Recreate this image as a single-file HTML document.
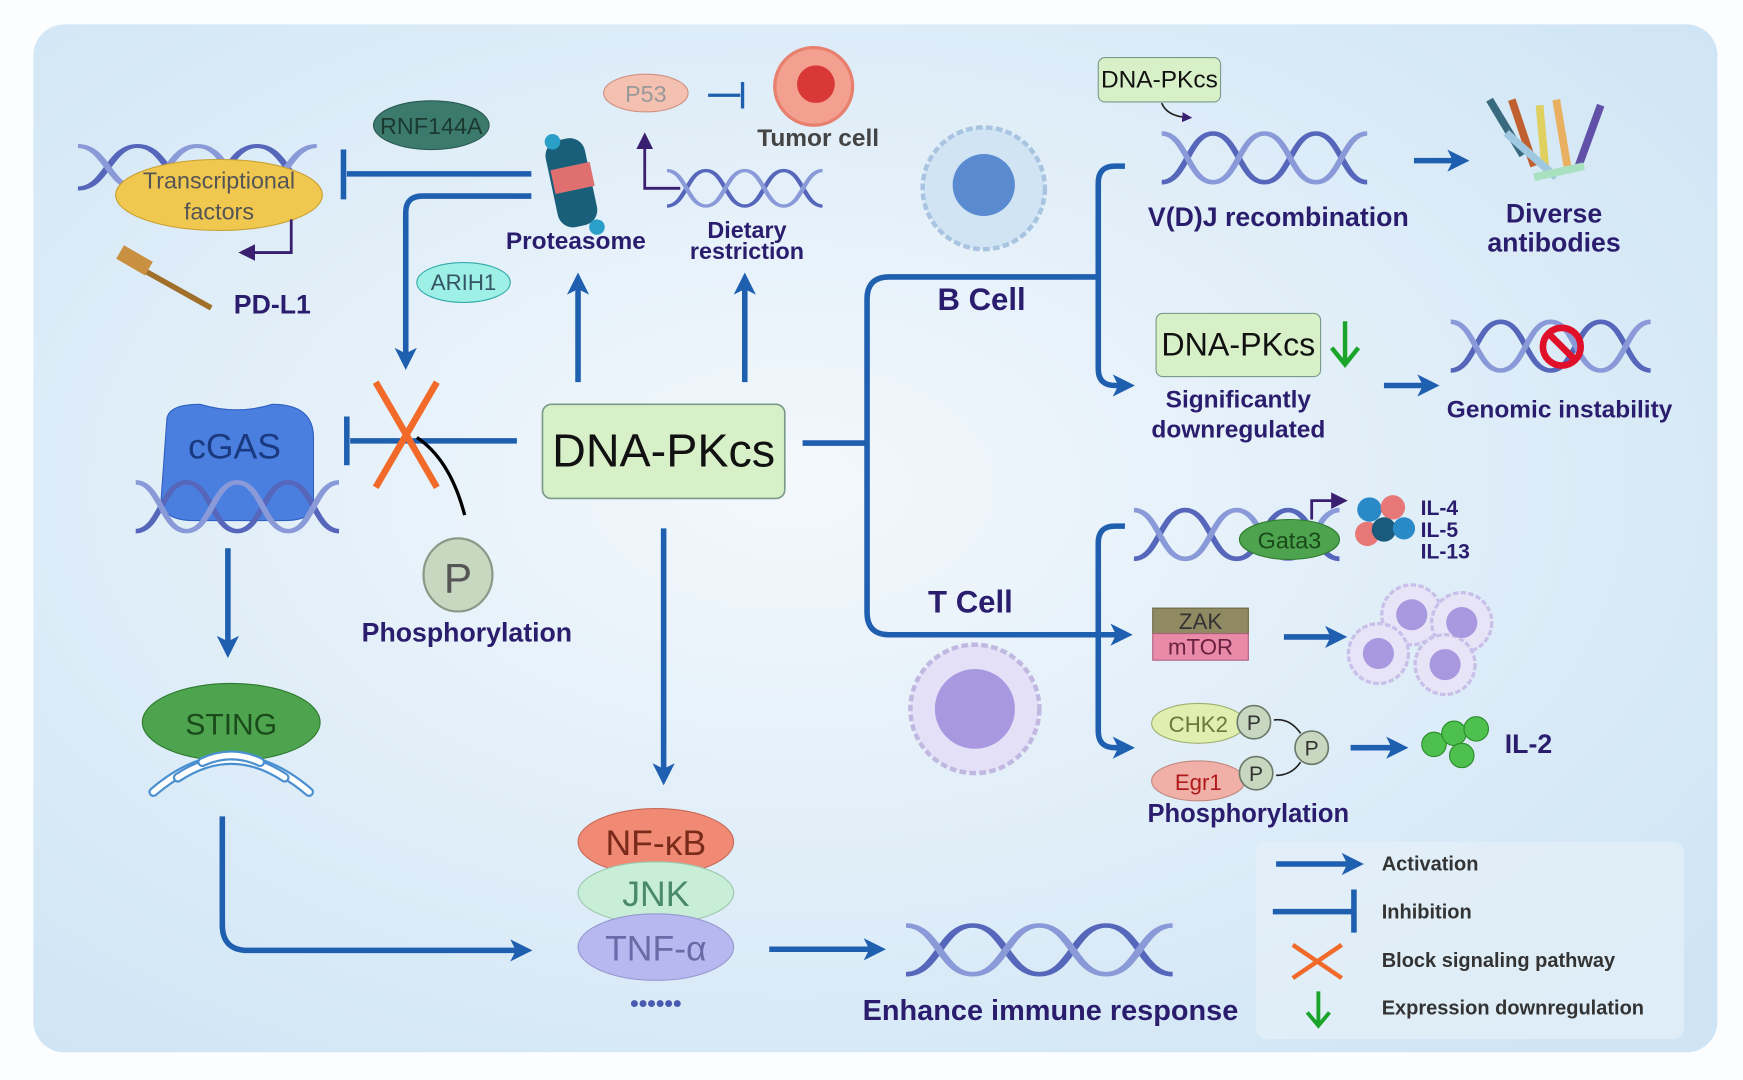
<!DOCTYPE html>
<html><head><meta charset="utf-8"><style>
html,body{margin:0;padding:0;background:#fff;}
svg{display:block}
text{font-family:"Liberation Sans",sans-serif;}
.b{font-weight:bold;fill:#2b1d6e;}
</style></head><body>
<svg width="1743" height="1080" viewBox="0 0 1568 975" preserveAspectRatio="none" xmlns="http://www.w3.org/2000/svg">
<defs>
<radialGradient id="bg" cx="0.45" cy="0.45" r="0.7">
<stop offset="0" stop-color="#f3f8fc"/><stop offset="1" stop-color="#cfe5f5"/></radialGradient>
<marker id="ar" markerWidth="4" markerHeight="4" refX="2.2" refY="2" orient="auto" markerUnits="strokeWidth"><path d="M0,0 L4,2 L0,4 L1,2z" fill="#1f5fb0"/></marker>
<marker id="ap" markerWidth="6" markerHeight="6" refX="3" refY="3" orient="auto" markerUnits="strokeWidth"><path d="M0,0 L6,3 L0,6z" fill="#3a1f70"/></marker>
<symbol id="hx" viewBox="0 0 100 40" preserveAspectRatio="none">
<path d="M0,36 C12,36 13,4 25,4 S38,36 50,36 S63,4 75,4 S88,36 100,36" fill="none" stroke="#5566bb" stroke-width="3"/>
<path d="M0,4 C12,4 13,36 25,36 S38,4 50,4 S63,36 75,36 S88,4 100,4" fill="none" stroke="#8a9ad8" stroke-width="3"/>
</symbol>
</defs>
<rect width="1568" height="975" fill="#fbfdff"/>
<rect x="30" y="22" width="1515" height="928" rx="28" fill="url(#bg)"/>
<!-- legend box -->
<rect x="1130" y="760" width="385" height="178" rx="10" fill="#e8f1f8" opacity="0.6"/>

<g stroke="#1f5fb0" stroke-width="5" fill="none">
<path d="M465,398 H315"/><path d="M312,376 V420"/>
<path d="M478,157 H312"/><path d="M309,135 V180"/>
<path d="M478,177 H380 Q365,177 365,192 V325" marker-end="url(#ar)"/>
<path d="M205,495 V585" marker-end="url(#ar)"/>
<path d="M200,737 V835 Q200,858 223,858 H470" marker-end="url(#ar)"/>
<path d="M597,477 V700" marker-end="url(#ar)"/>
<path d="M520,345 V255" marker-end="url(#ar)"/>
<path d="M670,345 V255" marker-end="url(#ar)"/>
<path d="M692,857 H788" marker-end="url(#ar)"/>
<path d="M722,400 H780"/>
<path d="M988,250 H800 Q780,250 780,270 V553 Q780,573 800,573 H1010" marker-end="url(#ar)"/>
<path d="M1012,150 H1003 Q988,150 988,165 V333 Q988,348 1003,348 H1012" marker-end="url(#ar)"/>
<path d="M1012,475 H1003 Q988,475 988,490 V660 Q988,675 1003,675 H1012" marker-end="url(#ar)"/>
<path d="M1272,145 H1313" marker-end="url(#ar)"/>
<path d="M1245,348 H1286" marker-end="url(#ar)"/>
<path d="M1155,575 H1203" marker-end="url(#ar)"/>
<path d="M1215,675 H1258" marker-end="url(#ar)"/>
<path d="M1148,780 H1218" marker-end="url(#ar)"/>
<path d="M1145,823 H1216"/><path d="M1218,803 V842"/>
</g>

<g stroke="#f26a2a" stroke-width="4"><path d="M1163,853 L1207,883 M1207,853 L1163,883"/></g>
<path d="M1186,895 V925 M1176,914 L1186,926 L1196,914" stroke="#1aa52a" stroke-width="3.5" fill="none"/>
<text x="1243" y="786" font-size="18" class="b" style="fill:#333">Activation</text>
<text x="1243" y="829" font-size="18" class="b" style="fill:#333">Inhibition</text>
<text x="1243" y="873" font-size="18" class="b" style="fill:#333">Block signaling pathway</text>
<text x="1243" y="916" font-size="18" class="b" style="fill:#333">Expression downregulation</text>

<rect x="488" y="365" width="218" height="85" rx="8" fill="#d8f0c8" stroke="#7a9a8a" stroke-width="1.5"/>
<text x="597" y="421" font-size="42" text-anchor="middle" fill="#111">DNA-PKcs</text>

<use href="#hx" x="70" y="127" width="215" height="48"/>
<ellipse cx="197" cy="176" rx="93" ry="32" fill="#f0c850" stroke="#c8a030"/>
<text x="197" y="170" font-size="21" text-anchor="middle" fill="#555">Transcriptional</text>
<text x="197" y="198" font-size="21" text-anchor="middle" fill="#555">factors</text>
<path d="M262,198 V228 H222" stroke="#3a1f70" stroke-width="2.5" fill="none" marker-end="url(#ap)"/>
<path d="M108,232 L190,278" stroke="#a0702a" stroke-width="5"/>
<rect x="106" y="228" width="30" height="14" fill="#c89040" transform="rotate(30 121 235)"/>
<text x="245" y="283" font-size="24" text-anchor="middle" class="b">PD-L1</text>
<ellipse cx="388" cy="113" rx="52" ry="22" fill="#3d7a6e" stroke="#2a5a50"/>
<text x="388" y="121" font-size="21" text-anchor="middle" fill="#1a3a30">RNF144A</text>
<ellipse cx="417" cy="255" rx="42" ry="18" fill="#9ef0e6" stroke="#3aa"/>
<text x="417" y="262" font-size="20" text-anchor="middle" fill="#356">ARIH1</text>

<g>
<rect x="496" y="125" width="36" height="80" rx="14" fill="#1a5f7a" transform="rotate(-12 514 165)"/>
<rect x="498" y="150" width="36" height="22" fill="#e07070" transform="rotate(-12 514 165)"/>
<circle cx="497" cy="128" r="7" fill="#2aa0c8"/><circle cx="537" cy="205" r="7" fill="#2aa0c8"/>
</g>
<text x="518" y="225" font-size="22" text-anchor="middle" class="b">Proteasome</text>

<use href="#hx" x="600" y="150" width="140" height="40"/>
<path d="M612,170 H580 V127" stroke="#3a1f70" stroke-width="2.5" fill="none" marker-end="url(#ap)"/>
<text x="672" y="215" font-size="21" text-anchor="middle" class="b">Dietary</text>
<text x="672" y="234" font-size="21" text-anchor="middle" class="b">restriction</text>
<ellipse cx="581" cy="84" rx="38" ry="17" fill="#f4c0b0" stroke="#d09080"/>
<text x="581" y="92" font-size="21" text-anchor="middle" fill="#999">P53</text>
<path d="M637,86 H666 M668,74 V98" stroke="#1f5fb0" stroke-width="3" fill="none"/>
<circle cx="732" cy="78" r="35" fill="#f4a090" stroke="#e8806e" stroke-width="3"/>
<circle cx="734" cy="76" r="17" fill="#d83838"/>
<text x="736" y="132" font-size="22" text-anchor="middle" class="b" style="fill:#444">Tumor cell</text>

<path d="M150,380 Q150,365 180,365 Q213,375 245,365 Q282,365 282,395 V455 Q282,470 255,470 H175 Q145,470 145,450z" fill="#4a7fe0" stroke="#3060c0"/>
<text x="211" y="414" font-size="32" text-anchor="middle" fill="#1a3a80">cGAS</text>
<use href="#hx" x="122" y="430" width="183" height="55"/>
<g stroke="#f26a2a" stroke-width="6"><path d="M338,345 L393,440 M393,345 L338,440"/></g>
<path d="M375,395 Q405,415 418,465" stroke="#000" stroke-width="3" fill="none"/>
<ellipse cx="412" cy="519" rx="31" ry="33" fill="#c8d8c0" stroke="#8a9a88" stroke-width="2"/>
<text x="412" y="535" font-size="38" text-anchor="middle" fill="#555">P</text>
<text x="420" y="579" font-size="24" text-anchor="middle" class="b">Phosphorylation</text>

<ellipse cx="208" cy="652" rx="80" ry="35" fill="#4ea34e" stroke="#2e7a2e"/>
<text x="208" y="663" font-size="27" text-anchor="middle" fill="#1a4a1a">STING</text>
<g fill="none" stroke-linecap="round">
<path d="M138,715 Q208,655 278,715" stroke="#4a90d0" stroke-width="9"/><path d="M138,715 Q208,655 278,715" stroke="#fff" stroke-width="5"/>
<path d="M160,702 Q208,670 256,702" stroke="#4a90d0" stroke-width="9"/><path d="M160,702 Q208,670 256,702" stroke="#fff" stroke-width="5"/>
<path d="M182,688 Q208,676 234,688" stroke="#4a90d0" stroke-width="9"/><path d="M182,688 Q208,676 234,688" stroke="#fff" stroke-width="5"/>
</g>

<ellipse cx="590" cy="760" rx="70" ry="30" fill="#f08a74" stroke="#c86a58"/>
<text x="590" y="772" font-size="32" text-anchor="middle" fill="#7a2a1a">NF-κB</text>
<ellipse cx="590" cy="806" rx="70" ry="28" fill="#c8eed8" stroke="#9ac8aa"/>
<text x="590" y="818" font-size="32" text-anchor="middle" fill="#4a8a6a">JNK</text>
<ellipse cx="590" cy="855" rx="70" ry="30" fill="#b8b8f0" stroke="#9898d0"/>
<text x="590" y="867" font-size="32" text-anchor="middle" fill="#6a6aa8">TNF-α</text>
<text x="590" y="913" font-size="22" text-anchor="middle" fill="#4a5ab0" font-weight="bold">••••••</text>
<use href="#hx" x="815" y="830" width="240" height="55"/>
<text x="945" y="921" font-size="26" text-anchor="middle" class="b">Enhance immune response</text>

<text x="883" y="280" font-size="28" text-anchor="middle" class="b">B Cell</text>
<text x="873" y="553" font-size="28" text-anchor="middle" class="b">T Cell</text>
<circle cx="885" cy="170" r="55" fill="#d0e4f4" stroke="#a8c4e0" stroke-width="4" stroke-dasharray="6 3"/>
<circle cx="885" cy="167" r="28" fill="#5a8ad0"/>
<circle cx="877" cy="640" r="58" fill="#e4e0f8" stroke="#c0b8e0" stroke-width="4" stroke-dasharray="6 3"/>
<circle cx="877" cy="640" r="36" fill="#a898e0"/>

<rect x="988" y="52" width="110" height="40" rx="6" fill="#d8f0c8" stroke="#7a9a8a"/>
<text x="1043" y="79" font-size="22" text-anchor="middle" fill="#111">DNA-PKcs</text>
<path d="M1045,93 Q1050,105 1068,106" stroke="#222" stroke-width="1.5" fill="none" marker-end="url(#ap)"/>
<use href="#hx" x="1045" y="115" width="185" height="55"/>
<text x="1150" y="204" font-size="24" text-anchor="middle" class="b">V(D)J recombination</text>
<g stroke-width="7">
<path d="M1340,90 L1370,140" stroke="#3a6a80"/><path d="M1360,90 L1380,150" stroke="#c06030"/>
<path d="M1385,95 L1390,150" stroke="#e0d060"/><path d="M1400,90 L1410,150" stroke="#e8b060"/>
<path d="M1440,95 L1420,150" stroke="#6050a8"/><path d="M1355,120 L1400,160" stroke="#a0c8e0"/>
<path d="M1380,160 L1425,150" stroke="#a8e0c0"/></g>
<text x="1398" y="201" font-size="24" text-anchor="middle" class="b">Diverse</text>
<text x="1398" y="227" font-size="24" text-anchor="middle" class="b">antibodies</text>

<rect x="1040" y="283" width="148" height="57" rx="6" fill="#d8f0c8" stroke="#7a9a8a"/>
<text x="1114" y="321" font-size="29" text-anchor="middle" fill="#111">DNA-PKcs</text>
<path d="M1210,290 V328 M1198,314 L1210,329 L1222,314" stroke="#1aa52a" stroke-width="4" fill="none"/>
<text x="1114" y="368" font-size="22" text-anchor="middle" class="b">Significantly</text>
<text x="1114" y="395" font-size="22" text-anchor="middle" class="b">downregulated</text>
<use href="#hx" x="1305" y="285" width="180" height="55"/>
<circle cx="1405" cy="313" r="17" fill="none" stroke="#e0102a" stroke-width="6"/>
<path d="M1393,301 L1417,325" stroke="#e0102a" stroke-width="6"/>
<text x="1403" y="377" font-size="22" text-anchor="middle" class="b">Genomic instability</text>

<use href="#hx" x="1020" y="455" width="185" height="55"/>
<ellipse cx="1160" cy="487" rx="45" ry="18" fill="#4ea34e" stroke="#2e7a2e"/>
<text x="1160" y="495" font-size="21" text-anchor="middle" fill="#1a4a1a">Gata3</text>
<path d="M1180,469 V452 H1205" stroke="#3a1f70" stroke-width="2.5" fill="none" marker-end="url(#ap)"/>
<circle cx="1232" cy="460" r="11" fill="#2a8ac8"/><circle cx="1253" cy="458" r="11" fill="#e87878"/>
<circle cx="1230" cy="482" r="11" fill="#e87878"/><circle cx="1245" cy="478" r="11" fill="#1a5a7a"/><circle cx="1263" cy="477" r="10" fill="#2a8ac8"/>
<text x="1278" y="465" font-size="19" class="b">IL-4</text>
<text x="1278" y="485" font-size="19" class="b">IL-5</text>
<text x="1278" y="504" font-size="19" class="b">IL-13</text>

<rect x="1037" y="549" width="86" height="23" fill="#8f8a62" stroke="#6a6640"/>
<text x="1080" y="568" font-size="20" text-anchor="middle" fill="#333">ZAK</text>
<rect x="1037" y="572" width="86" height="24" fill="#e88aa8" stroke="#b06080"/>
<text x="1080" y="591" font-size="20" text-anchor="middle" fill="#6a2040">mTOR</text>
<g fill="#e8e4f8" stroke="#c8c0e8" stroke-width="3" stroke-dasharray="5 2">
<circle cx="1270" cy="555" r="27"/><circle cx="1315" cy="562" r="27"/><circle cx="1240" cy="590" r="27"/><circle cx="1300" cy="600" r="27"/></g>
<g fill="#a898e0"><circle cx="1270" cy="555" r="14"/><circle cx="1315" cy="562" r="14"/><circle cx="1240" cy="590" r="14"/><circle cx="1300" cy="600" r="14"/></g>

<ellipse cx="1078" cy="653" rx="42" ry="18" fill="#e0eeb0" stroke="#a0b070"/>
<text x="1078" y="661" font-size="20" text-anchor="middle" fill="#6a7a3a">CHK2</text>
<ellipse cx="1078" cy="705" rx="42" ry="18" fill="#f0b0a8" stroke="#c08880"/>
<text x="1078" y="713" font-size="20" text-anchor="middle" fill="#b01a1a">Egr1</text>
<g fill="#c8d8c0" stroke="#6a7a68" stroke-width="1.5">
<circle cx="1128" cy="652" r="15"/><circle cx="1130" cy="698" r="15"/><circle cx="1180" cy="675" r="15"/></g>
<g font-size="19" text-anchor="middle" fill="#333"><text x="1128" y="659">P</text><text x="1130" y="705">P</text><text x="1180" y="682">P</text></g>
<path d="M1170,662 Q1160,648 1146,650 M1170,688 Q1162,700 1148,700" stroke="#222" stroke-width="1.5" fill="none"/>
<text x="1123" y="742" font-size="23" text-anchor="middle" class="b">Phosphorylation</text>
<g fill="#4ec04e" stroke="#2a8a2a"><circle cx="1290" cy="672" r="11"/><circle cx="1308" cy="662" r="11"/><circle cx="1328" cy="658" r="11"/><circle cx="1315" cy="682" r="11"/></g>
<text x="1375" y="680" font-size="24" text-anchor="middle" class="b">IL-2</text>
</svg>
</body></html>
